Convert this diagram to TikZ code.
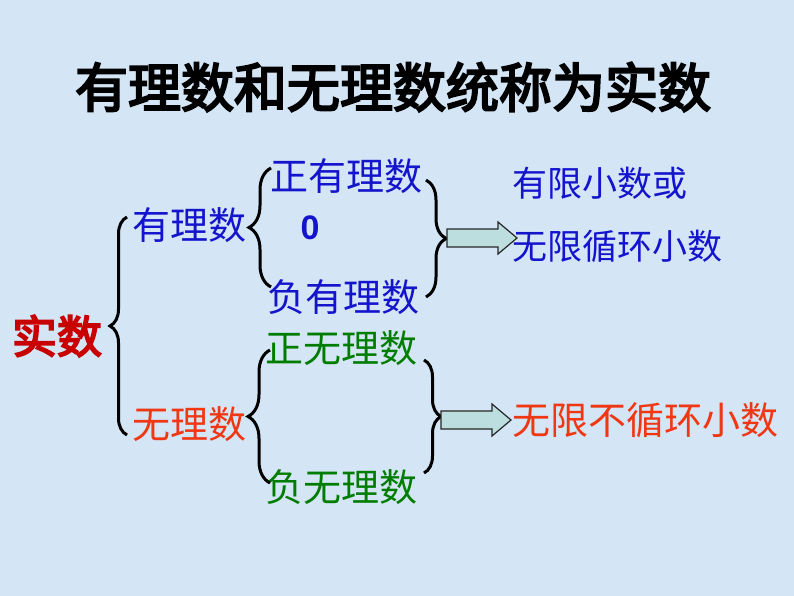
\documentclass[tikz,border=0pt]{standalone}
\usepackage{fontspec}
\newfontfamily\cjk{Noto Sans CJK SC}
\newfontfamily\cjkbold[FakeBold=4]{Noto Sans CJK SC}
\newfontfamily\digitfont{Liberation Sans}
\usetikzlibrary{decorations.pathreplacing}
\definecolor{bgblue}{RGB}{212,229,245}
\definecolor{ratblue}{RGB}{20,20,205}
\definecolor{irrred}{RGB}{240,55,20}
\definecolor{realred}{RGB}{200,0,0}
\definecolor{irrgreen}{RGB}{0,125,0}
\definecolor{arrfill}{RGB}{188,222,222}
\begin{document}
\begin{tikzpicture}[x=1pt,y=-1pt,
txt/.style={inner sep=0pt, font=\cjk\fontsize{38}{40}\selectfont},
small/.style={inner sep=0pt, font=\cjk\fontsize{35}{37}\selectfont},
curly/.style={decorate, decoration={brace, amplitude=#1}, line width=3pt},
curly/.default=18,
blockarrow/.pic={
  \draw[draw=black!85, fill=arrfill, line width=1.2pt]
    (0,-9) -- (#1-19,-9) -- (#1-19,-16) -- (#1,0) -- (#1-19,16)
    -- (#1-19,9) -- (0,9) -- cycle;}
]
\fill[bgblue] (0,0) rectangle (794,596);

% title
\node[inner sep=0pt, font=\cjkbold\fontsize{53}{55}\selectfont] (title) at (393,87)
  {有理数和无理数统称为实数};

% left part
\node[inner sep=0pt, text=realred, font=\cjkbold\fontsize{45}{47}\selectfont] (real) at (57,336) {实数};
\node[txt, text=ratblue] (rat) at (189,225) {有理数};
\node[txt, text=irrred] (irr) at (189,424) {无理数};

% middle part
\node[txt, text=ratblue] (posrat) at (346,176) {正有理数};
\node[inner sep=0pt, text=ratblue, font=\digitfont\bfseries\fontsize{34}{36}\selectfont] (zero) at (310,228) {0};
\node[txt, text=ratblue] (negrat) at (343,297) {负有理数};
\node[txt, text=irrgreen] (posirr) at (341,348) {正无理数};
\node[txt, text=irrgreen] (negirr) at (341,487) {负无理数};

% right part
\node[small, text=ratblue] (finite) at (600,183) {有限小数或};
\node[small, text=ratblue] (repeat) at (617,246) {无限循环小数};
\node[txt, text=irrred] (nonrep) at (645,420) {无限不循环小数};

% braces
\coordinate (b1top) at (127,217);
\coordinate (b1bot) at (127,435);
\coordinate (b2top) at (271,168);
\coordinate (b2bot) at (271,287);
\coordinate (b3top) at (426,180);
\coordinate (b3bot) at (426,297);
\coordinate (b4top) at (270,350);
\coordinate (b4bot) at (270,483);
\coordinate (b5top) at (424,360);
\coordinate (b5bot) at (424,473);
\draw[curly=17] (b1bot) -- (b1top);
\draw[curly=22] (b2bot) -- (b2top);
\draw[curly=20] (b3top) -- (b3bot);
\draw[curly=22] (b4bot) -- (b4top);
\draw[curly=17] (b5top) -- (b5bot);

% block arrows
\path (447,238) pic {blockarrow=70}
      (441,420) pic {blockarrow=70};

\end{tikzpicture}
\end{document}
